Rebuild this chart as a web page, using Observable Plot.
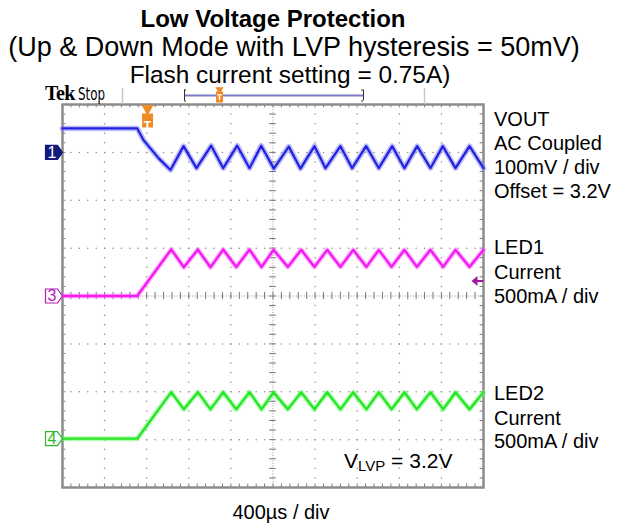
<!DOCTYPE html>
<html><head><meta charset="utf-8">
<script src="https://cdn.jsdelivr.net/npm/d3@7"></script>
<script src="https://cdn.jsdelivr.net/npm/@observablehq/plot@0.6"></script>
<style>
body{margin:0;background:#fff;}
#wrap{position:relative;width:620px;height:527px;overflow:hidden;font-family:"Liberation Sans",Arial,sans-serif;color:#000;}
#wrap svg{position:absolute;left:0;top:0;overflow:visible;}
.t{position:absolute;white-space:nowrap;line-height:1;}
</style></head><body><div id="wrap"></div>
<script>
// ---------------- data ----------------
const titleText = "Low Voltage Protection";
const subtitleLines = ["(Up & Down Mode with LVP hysteresis = 50mV)", "Flash current setting = 0.75A)"];
const timeLabel = "400µs / div";
const timePerDivUs = 400;

// VOUT (AC coupled, mV relative to 3.2V offset)
const voutTimeUs = [0, 710, 772, 912, 1026, 1150, 1273, 1413, 1527, 1660, 1777, 1888, 2008, 2150, 2261, 2394, 2499, 2641, 2752, 2885, 3005, 3132, 3249, 3370, 3496, 3613, 3734, 3867, 4000];
const voutMV     = [50, 50, 25, -12, -37, 13, -33, 14, -33, 14, -33, 14, -34, 12, -34, 13, -33, 13, -33, 13, -33, 13, -33, 13, -33, 13, -33, 13, -33];

// LED currents (mA)
const ledTimeUs = [0, 710, 1033, 1153, 1286, 1406, 1527, 1651, 1777, 1891, 2005, 2141, 2268, 2394, 2515, 2641, 2762, 2888, 3005, 3126, 3249, 3367, 3496, 3617, 3734, 3867, 4000];
const led1MA    = [0, 0, 487, 300, 485, 300, 485, 302, 485, 302, 482, 304, 482, 304, 482, 304, 482, 304, 482, 304, 482, 304, 482, 304, 482, 304, 482];
const led2MA    = [0, 0, 486, 306, 486, 306, 486, 306, 486, 306, 484, 306, 484, 306, 484, 306, 484, 306, 484, 306, 484, 306, 484, 306, 484, 306, 484];

// channel settings
const channelNames  = ["1", "3", "4"];
const channelRefDiv = [3, 0, -2.98];
const voutPerDivMV = 100;
const ledPerDivMA = 500;
const triggerTimeUs = 808;
const triggerLevelMA = 157;

const rightLabels = [
  ["VOUT", "AC Coupled", "100mV / div", "Offset = 3.2V"],
  ["LED1", "Current", "500mA / div"],
  ["LED2", "Current", "500mA / div"]
];

// ---------------- build ----------------
const vout = voutTimeUs.map((t, i) => ({t, y: channelRefDiv[0] + voutMV[i] / voutPerDivMV}));
const led1 = ledTimeUs.map((t, i) => ({t, y: channelRefDiv[1] + led1MA[i] / ledPerDivMA}));
const led2 = ledTimeUs.map((t, i) => ({t, y: channelRefDiv[2] + led2MA[i] / ledPerDivMA}));

const W = 620, H = 527, mL = 62, mR = 137, mT = 104, mB = 40;
const fx = px => (px - mL) * 4000 / (W - mL - mR);
const fy = py => 4 - (py - mT) * 8 / (H - mT - mB);

// graticule
const gridDots = [];
for (let k = 1; k <= 9; k++) if (k !== 5) for (let j = -20; j <= 20; j++) gridDots.push({x: k * timePerDivUs, y: j * 0.2});
for (let m = -3; m <= 3; m++) if (m !== 0) for (let i = 0; i <= 50; i++) gridDots.push({x: i * 80, y: m});
const hTicks = d3.range(1, 50).map(i => i * 80);
const vTicks = d3.range(-19, 20).map(j => j * 0.2);

// fixed-size symbols (pixel geometry, independent of r)
const tab = {draw(ctx) {
  ctx.moveTo(-8.5, -7); ctx.lineTo(3.5, -7); ctx.lineTo(8.5, 0); ctx.lineTo(3.5, 7); ctx.lineTo(-8.5, 7); ctx.closePath(); }};
const tbox = {draw(ctx) { ctx.rect(-5.5, -7, 11, 14); }};
const tboxSmall = {draw(ctx) { ctx.rect(-3.5, -5.5, 7, 11); }};
const larrow = {draw(ctx) {
  ctx.moveTo(-6, 0); ctx.lineTo(0, -5); ctx.lineTo(0, 5); ctx.closePath();
  ctx.rect(0, -1, 6, 2); }};

const chStyles = [
  {fill: "#111a7a", stroke: "#111a7a", text: "#fff"},
  {fill: "#fff", stroke: "#b21cb2", text: "#b21cb2"},
  {fill: "#fff", stroke: "#2fb82f", text: "#2fb82f"}
];
const chData = channelNames.map((n, i) => ({n, y: channelRefDiv[i], ...chStyles[i]}));

const plot = Plot.plot({
  width: W, height: H, marginLeft: mL, marginRight: mR, marginTop: mT, marginBottom: mB,
  x: {domain: [0, 4000], axis: null},
  y: {domain: [-4, 4], axis: null},
  style: {background: "transparent", overflow: "visible"},
  marks: [
    Plot.dot(gridDots, {x: "x", y: "y", r: 0.75, fill: "#8a8a8a", stroke: null}),
    Plot.ruleY([0], {stroke: "#9a9a9a", strokeDasharray: "1,1.6"}),
    Plot.ruleX([2000], {stroke: "#9a9a9a", strokeDasharray: "1,1.6"}),
    Plot.ruleX(hTicks, {x: d => d, y1: -0.075, y2: 0.075, stroke: "#777"}),
    Plot.ruleY(vTicks, {y: d => d, x1: 2000 - 32, x2: 2000 + 32, stroke: "#777"}),
    Plot.ruleX(hTicks, {x: d => d, y1: 4, y2: 3.93, stroke: "#777"}),
    Plot.ruleX(hTicks, {x: d => d, y1: -4, y2: -3.93, stroke: "#777"}),
    Plot.ruleY(vTicks, {y: d => d, x1: 0, x2: 32, stroke: "#777"}),
    Plot.ruleY(vTicks, {y: d => d, x1: 4000, x2: 3968, stroke: "#777"}),
    Plot.frame({stroke: "#8c8c8c", strokeWidth: 2.5}),
    // traces (halo + core)
    Plot.line(vout, {x: "t", y: "y", stroke: "#7a7af5", strokeWidth: 5.5, strokeOpacity: 0.5}),
    Plot.line(vout, {x: "t", y: "y", stroke: "#2020e0", strokeWidth: 2.2}),
    Plot.line(led1, {x: "t", y: "y", stroke: "#ff70ff", strokeWidth: 5, strokeOpacity: 0.5}),
    Plot.line(led1, {x: "t", y: "y", stroke: "#f21cf2", strokeWidth: 2.4}),
    Plot.line(led2, {x: "t", y: "y", stroke: "#70ff70", strokeWidth: 5, strokeOpacity: 0.5}),
    Plot.line(led2, {x: "t", y: "y", stroke: "#26e626", strokeWidth: 2.4}),
    // channel markers
    Plot.dot(chData, {y: "y", frameAnchor: "left", dx: -8.5, r: 8.5, symbol: tab, fill: "fill", stroke: "stroke", strokeWidth: 1.2}),
    Plot.text(chData, {y: "y", frameAnchor: "left", dx: -10.5, textAnchor: "middle", text: "n", fill: "text", fontSize: 16, fontFamily: "Liberation Sans, Arial, sans-serif"}),
    // trigger position marker
    Plot.dot([triggerTimeUs], {x: d => d, frameAnchor: "top", dy: 4, r: 4.5, symbol: "triangle", rotate: 180, fill: "#f08a24", stroke: null}),
    Plot.dot([triggerTimeUs], {x: d => d, frameAnchor: "top", dy: 16, r: 6, symbol: tbox, fill: "#f08a24", stroke: null}),
    Plot.text([triggerTimeUs], {x: d => d, frameAnchor: "top", dy: 16.5, text: () => "T", fill: "#fff", fontSize: 12, fontWeight: "bold", fontFamily: "Liberation Sans, Arial, sans-serif"}),
    // trigger level marker
    Plot.dot([triggerLevelMA], {y: d => channelRefDiv[1] + d / ledPerDivMA, frameAnchor: "right", dx: -6, r: 6, symbol: larrow, fill: "#a0189e", stroke: null}),
    // top status bar
    Plot.ruleX([fx(122), fx(424)], {x: d => d, y1: fy(88), y2: fy(104), stroke: "#c8c8c8", strokeWidth: 1.5}),
    Plot.ruleY([fy(95)], {y: d => d, x1: fx(184), x2: fx(363), stroke: "#7a7ac6", strokeWidth: 2}),
    Plot.ruleX([fx(184), fx(363)], {x: d => d, y1: fy(89.5), y2: fy(100.5), stroke: "#333", strokeWidth: 1}),
    Plot.ruleY([fy(89.5), fy(100.5)], {y: d => d, x1: fx(184), x2: fx(186), stroke: "#333", strokeWidth: 1}),
    Plot.ruleY([fy(89.5), fy(100.5)], {y: d => d, x1: fx(361), x2: fx(363), stroke: "#333", strokeWidth: 1}),
    Plot.dot([fx(219)], {x: d => d, y: () => fy(89), r: 3, symbol: "triangle", rotate: 180, fill: "#f08a24", stroke: null}),
    Plot.dot([fx(219)], {x: d => d, y: () => fy(96.5), r: 4, symbol: tboxSmall, fill: "#f08a24", stroke: null}),
    Plot.text([fx(219)], {x: d => d, y: () => fy(96.5), text: () => "T", fill: "#fff", fontSize: 8, fontWeight: "bold"})
  ]
});
const wrap = document.getElementById("wrap");
wrap.appendChild(plot);

function addText(txt, {x, baseline, size, weight = "normal", anchor = "start", family}) {
  const d = document.createElement("div");
  d.className = "t";
  d.textContent = txt;
  d.style.fontSize = size + "px";
  d.style.fontWeight = weight;
  if (family) d.style.fontFamily = family;
  d.style.top = (baseline - 0.8465 * size) + "px";
  if (anchor === "middle") { d.style.left = x + "px"; d.style.transform = "translateX(-50%)"; }
  else d.style.left = x + "px";
  wrap.appendChild(d);
  return d;
}
addText(titleText, {x: 273, baseline: 27, size: 24, weight: "bold", anchor: "middle"});
addText(subtitleLines[0], {x: 294, baseline: 57, size: 27, anchor: "middle"});
addText(subtitleLines[1], {x: 290, baseline: 84, size: 24.4, anchor: "middle"});
addText(timeLabel, {x: 281, baseline: 519, size: 20, anchor: "middle"});

const labelBase = [[126, 150, 174, 198], [254, 279, 303], [400, 425, 448]];
rightLabels.forEach((g, i) => g.forEach((s, j) => addText(s, {x: 494, baseline: labelBase[i][j], size: 20})));

// Tek Stop
const tek = addText("", {x: 45, baseline: 100, size: 20});
tek.innerHTML = '<span style="font-family:\'Liberation Serif\',serif;font-weight:bold;letter-spacing:-0.6px">Tek</span><span style="display:inline-block;font-family:\'DejaVu Sans\',sans-serif;font-size:17px;transform:scaleX(0.7);transform-origin:0 50%;margin-left:3px">Stop</span>';

// V_LVP label
const vl = addText("", {x: 344, baseline: 468, size: 21});
vl.innerHTML = 'V<span style="font-size:15px;position:relative;top:3px">LVP</span> = 3.2V';
</script></body></html>
